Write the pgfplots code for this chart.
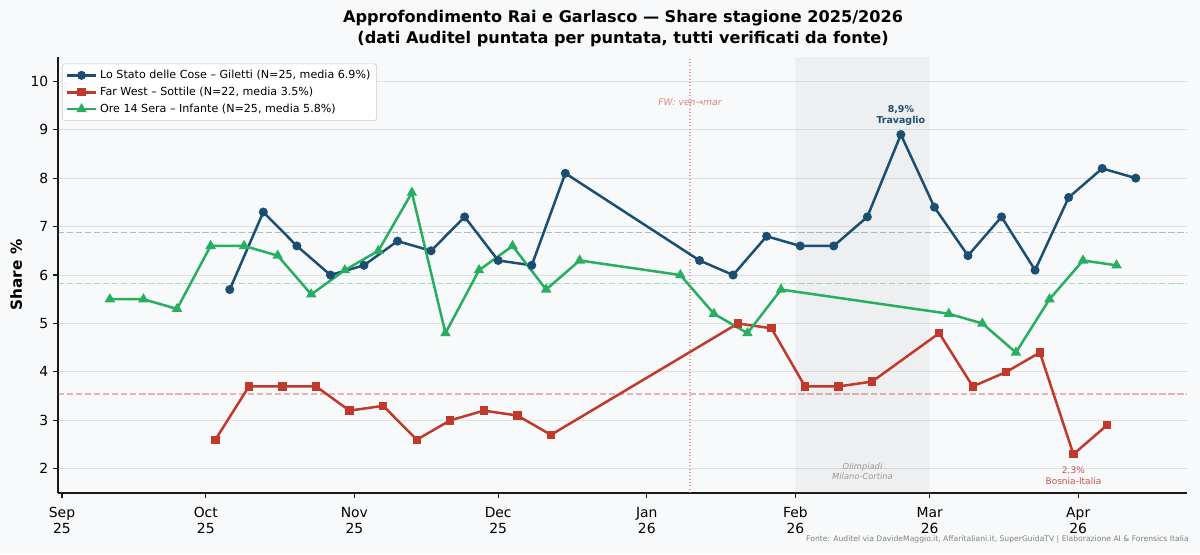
\documentclass[border=0pt]{standalone}
\usepackage{fontspec}
\setmainfont{DejaVu Sans}
\usepackage{pgfplots}
\pgfplotsset{compat=1.18}
\definecolor{cBlue}{HTML}{1B4F72}
\definecolor{cRed}{HTML}{C0392B}
\definecolor{cGreen}{HTML}{27AE60}
\definecolor{bgc}{HTML}{F8F9FA}
\begin{document}
\begin{tikzpicture}
\useasboundingbox (0,0) rectangle (864pt,398.88pt);
\fill[bgc] (0,0) rectangle (864pt,398.88pt);
\begin{axis}[
  at={(41.76pt,43.92pt)}, anchor=south west,
  width=812.9pt, height=313.9pt, scale only axis,
  xmin=-0.83, xmax=234.7, ymin=1.5, ymax=10.5,
  axis x line*=bottom, axis y line*=left,
  axis line style={black!90, line width=0.8pt, -},
  tick align=outside, major tick length=3.5pt,
  tick style={black!90, line width=0.8pt},
  xtick={0,30,61,91,122,153,181,212},
  xticklabels={{Sep\\25},{Oct\\25},{Nov\\25},{Dec\\25},{Jan\\26},{Feb\\26},{Mar\\26},{Apr\\26}},
  xticklabel style={align=center, font=\fontsize{10}{11.6}\selectfont, yshift=-3.2pt},
  ytick={2,3,4,5,6,7,8,9,10},
  yticklabel style={font=\fontsize{10}{12}\selectfont},
  /pgf/number format/assume math mode=true,
  ymajorgrids, major grid style={color=black!12, line width=0.6pt},
  ylabel={\bfseries Share \%},
  every axis y label/.style={at={(axis description cs:0,0.5)}, rotate=90, anchor=center, yshift=30.2pt, font=\fontsize{11}{13}\selectfont},
  legend style={at={(axis description cs:0.0035,0.985)}, anchor=north west,
    font=\fontsize{8}{9.6}\selectfont, draw=black!20, fill=white, rounded corners=2pt,
    row sep=0.6pt, inner sep=2.5pt},
  legend cell align=left,
  legend image code/.code={\draw[mark repeat=2,mark phase=2,#1] plot coordinates {(0pt,0pt)(10.5pt,0pt)(21pt,0pt)};},
]
% Olympic shading
\addplot[draw=none, fill=black!40, fill opacity=0.1, forget plot] coordinates {(153,1.5) (153,10.5) (181,10.5) (181,1.5)} \closedcycle;
% means
\addplot[cBlue, opacity=0.35, line width=0.9pt, dash pattern=on 4.5pt off 2pt, forget plot] coordinates {(-0.83,6.884) (234.7,6.884)};
\addplot[cRed, opacity=0.35, line width=0.9pt, dash pattern=on 4.5pt off 2pt, forget plot] coordinates {(-0.83,3.545) (234.7,3.545)};
\addplot[cGreen, opacity=0.4, line width=0.9pt, dash pattern=on 4.5pt off 2pt, forget plot] coordinates {(-0.83,5.824) (234.7,5.824)};
% FW switch
\addplot[cRed!70, opacity=0.7, line width=0.8pt, dash pattern=on 0.8pt off 1.6pt, forget plot] coordinates {(131,1.5) (131,10.5)};

\addplot[cBlue, line width=1.8pt, mark=*, mark size=2.3pt, mark options={solid}] table {
35 5.7
42 7.3
49 6.6
56 6.0
63 6.2
70 6.7
77 6.5
84 7.2
91 6.3
98 6.2
105 8.1
133 6.3
140 6.0
147 6.8
154 6.6
161 6.6
168 7.2
175 8.9
182 7.4
189 6.4
196 7.2
203 6.1
210 7.6
217 8.2
224 8.0
};
\addlegendentry{Lo Stato delle Cose – Giletti (N=25, media 6.9\%)}
\addplot[cRed, line width=1.8pt, mark=square*, mark size=2.1pt, mark options={solid}] table {
32 2.6
39 3.7
46 3.7
53 3.7
60 3.2
67 3.3
74 2.6
81 3.0
88 3.2
95 3.1
102 2.7
141 5.0
148 4.9
155 3.7
162 3.7
169 3.8
183 4.8
190 3.7
197 4.0
204 4.4
211 2.3
218 2.9
};
\addlegendentry{Far West – Sottile (N=22, media 3.5\%)}
\addplot[cGreen, line width=1.8pt, mark=triangle*, mark size=2.6pt, mark options={solid}] table {
10 5.5
17 5.5
24 5.3
31 6.6
38 6.6
45 6.4
52 5.6
59 6.1
66 6.5
73 7.7
80 4.8
87 6.1
94 6.6
101 5.7
108 6.3
129 6.0
136 5.2
143 4.8
150 5.7
185 5.2
192 5.0
199 4.4
206 5.5
213 6.3
220 6.2
};
\addlegendentry{Ore 14 Sera – Infante (N=25, media 5.8\%)}

\node[align=center, font=\bfseries\fontsize{6.8}{7.9}\selectfont, text=cBlue, inner sep=0] at (axis cs:175,9.30) {8,9\%\\Travaglio};
\node[align=center, font=\fontsize{6.5}{7.9}\selectfont, text=cRed!85, inner sep=0] at (axis cs:211,1.85) {2,3\%\\Bosnia-Italia};
\node[align=center, font=\itshape\fontsize{6}{7.2}\selectfont, text=black!40, inner sep=0] at (axis cs:167,1.944) {Olimpiadi\\Milano-Cortina};
\node[font=\itshape\fontsize{6.6}{8}\selectfont, text=cRed!60, inner sep=0] at (axis cs:131,9.56) {FW: ven→mar};
\end{axis}
\node[align=center, font=\bfseries\fontsize{11.6}{15}\selectfont, inner sep=0] at (448.6pt,378.4pt) {Approfondimento Rai e Garlasco — Share stagione 2025/2026\\(dati Auditel puntata per puntata, tutti verificati da fonte)};
\node[anchor=east, font=\fontsize{5.5}{6.6}\selectfont, text=black!50, inner sep=0] at (856pt,10.1pt) {Fonte: Auditel via DavideMaggio.it, Affaritaliani.it, SuperGuidaTV | Elaborazione AI \& Forensics Italia};
\end{tikzpicture}
\end{document}
